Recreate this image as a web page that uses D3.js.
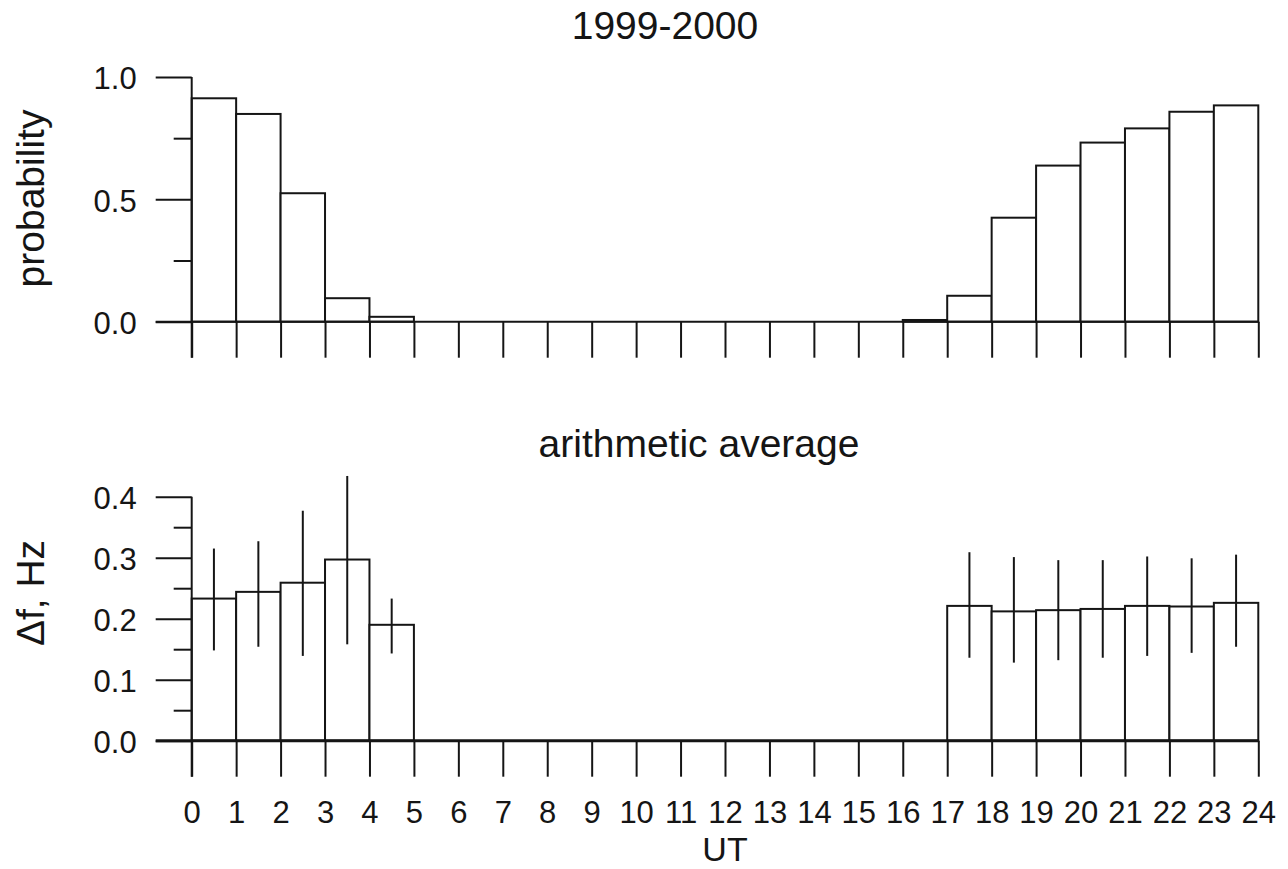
<!DOCTYPE html>
<html>
<head>
<meta charset="utf-8">
<script src="https://cdn.jsdelivr.net/npm/d3@7"></script>
<style>
    body { margin: 0; background: #fff; }
    svg { display: block; font-family: "Liberation Sans", Arial, sans-serif; }
</style>
</head>
<body>
<svg id="chart"></svg>
<script>
/*

Two-panel UT histogram (probability + arithmetic average with error bars)

*/

// Hour bins (left edge of each 1-hour bin)
const hours = [0, 1, 2, 3, 4, 5, 6, 7, 8, 9, 10, 11, 12, 13, 14, 15, 16, 17, 18, 19, 20, 21, 22, 23];

// Top panel: probability per hour
const probability = [0.913, 0.849, 0.525, 0.096, 0.020, 0, 0, 0, 0, 0, 0, 0,
                     0, 0, 0, 0, 0.007, 0.106, 0.425, 0.638, 0.732, 0.790, 0.858, 0.884];

// Bottom panel: mean delta f (Hz) and error bar ends, null where no data
const meanDf = [0.233, 0.244, 0.259, 0.297, 0.190, 0, 0, 0, 0, 0, 0, 0,
                0, 0, 0, 0, 0, 0.221, 0.212, 0.214, 0.216, 0.221, 0.220, 0.226];
const errHigh = [0.315, 0.327, 0.377, 0.434, 0.233, null, null, null, null, null, null, null,
                 null, null, null, null, null, 0.309, 0.301, 0.296, 0.296, 0.302, 0.299, 0.305];
const errLow = [0.148, 0.154, 0.139, 0.158, 0.143, null, null, null, null, null, null, null,
                null, null, null, null, null, 0.136, 0.128, 0.132, 0.136, 0.139, 0.144, 0.154];

// Tick values / labels
const xTicks = [0, 1, 2, 3, 4, 5, 6, 7, 8, 9, 10, 11, 12, 13, 14, 15, 16, 17, 18, 19, 20, 21, 22, 23, 24];
const probMajor = [0, 0.5, 1.0];
const probMinor = [0.25, 0.75];
const dfMajor = [0, 0.1, 0.2, 0.3, 0.4];
const dfMinor = [0.05, 0.15, 0.25, 0.35];

const W = 1288, H = 869;
const INK = "#151515";

const svg = d3.select("#chart").attr("width", W).attr("height", H);

// Shared x scale (UT hours)
const x = d3.scaleLinear().domain([0, 24]).range([191.7, 1258.3]);

// Panel y scales
const yProb = d3.scaleLinear().domain([0, 1]).range([321.7, 77]);
const yDf = d3.scaleLinear().domain([0, 0.4]).range([740.7, 496.7]);

// Draw one panel: axes, ticks, bars
function drawPanel(y, values, major, minor, fmt, showXLabels, zeroWidth) {
    const g = svg.append("g");
    const y0 = y(0);

    // bars
    g.selectAll("rect.bar")
        .data(hours.filter((h, i) => values[i] > 0))
        .enter().append("rect")
        .attr("class", "bar")
        .attr("x", h => x(h))
        .attr("y", h => y(values[h]))
        .attr("width", h => x(h + 1) - x(h))
        .attr("height", h => y0 - y(values[h]))
        .attr("fill", "#fff")
        .attr("stroke", INK)
        .attr("stroke-width", 2);

    // y axis, major ticks with labels
    const yAxis = g.append("g")
        .attr("transform", `translate(${x(0)},0)`)
        .call(d3.axisLeft(y).tickValues(major).tickSize(36).tickPadding(19).tickFormat(fmt));
    yAxis.select(".domain").remove();
    yAxis.selectAll("line").attr("stroke", INK).attr("stroke-width", 2);
    yAxis.selectAll("text")
        .attr("fill", INK)
        .attr("font-size", 31)
        .attr("font-family", "Liberation Sans, Arial, sans-serif")
        .attr("dy", "0.38em");

    // y axis, minor ticks
    const yMinor = g.append("g")
        .attr("transform", `translate(${x(0)},0)`)
        .call(d3.axisLeft(y).tickValues(minor).tickSize(18).tickFormat(""));
    yMinor.select(".domain").remove();
    yMinor.selectAll("line").attr("stroke", INK).attr("stroke-width", 2);

    // x ticks hanging below the zero line
    const xAxis = g.append("g")
        .attr("transform", `translate(0,${y0})`)
        .call(d3.axisBottom(x).tickValues(xTicks).tickSize(36).tickPadding(24)
            .tickFormat(showXLabels ? d3.format("d") : ""));
    xAxis.select(".domain").remove();
    xAxis.selectAll("line").attr("stroke", INK).attr("stroke-width", 2);
    xAxis.selectAll("text")
        .attr("fill", INK)
        .attr("font-size", 31)
        .attr("font-family", "Liberation Sans, Arial, sans-serif");

    // zero line (starts at the major tick length)
    g.append("line")
        .attr("x1", x(0) - 36).attr("x2", x(24))
        .attr("y1", y0).attr("y2", y0)
        .attr("stroke", INK).attr("stroke-width", zeroWidth);

    // vertical axis line, from top tick down to the end of the 0 tick
    g.append("line")
        .attr("x1", x(0)).attr("x2", x(0))
        .attr("y1", y(major[major.length - 1])).attr("y2", y0 + 36)
        .attr("stroke", INK).attr("stroke-width", 2);

    return g;
}

drawPanel(yProb, probability, probMajor, probMinor, d3.format(".1f"), false, 2);
const bottom = drawPanel(yDf, meanDf, dfMajor, dfMinor, d3.format(".1f"), true, 3);

// error bars on the bottom panel
bottom.selectAll("line.err")
    .data(hours.filter((h, i) => errHigh[i] !== null))
    .enter().append("line")
    .attr("class", "err")
    .attr("x1", h => x(h + 0.5)).attr("x2", h => x(h + 0.5))
    .attr("y1", h => yDf(errHigh[h])).attr("y2", h => yDf(errLow[h]))
    .attr("stroke", INK).attr("stroke-width", 2);

// Titles and axis labels
function label(txt, px, py, rotate, size) {
    const t = svg.append("text")
        .text(txt)
        .attr("font-size", size || 39)
        .attr("fill", INK)
        .attr("text-anchor", "middle");
    if (rotate) {
        t.attr("transform", `translate(${px},${py}) rotate(-90)`);
    } else {
        t.attr("x", px).attr("y", py);
    }
}

label("1999-2000", 665, 39, false);
label("arithmetic average", 699, 457, false);
label("UT", 725, 861, false, 34);
label("probability", 44, 198.5, true);
label("\u0394f, Hz", 44, 593, true);
</script>
</body>
</html>
